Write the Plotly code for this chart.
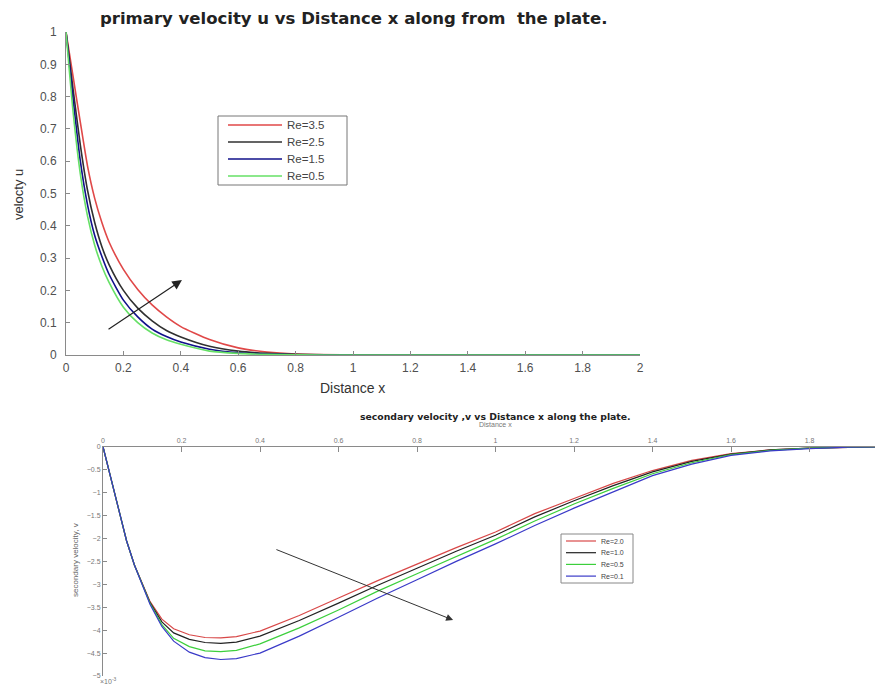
import plotly.graph_objects as go

# ---------------- top panel: primary velocity u ----------------
x_u = [0, 0.025, 0.05, 0.075, 0.1, 0.125, 0.15, 0.2, 0.25, 0.3, 0.35, 0.4,
       0.5, 0.6, 0.7, 0.8, 1.0, 1.2, 1.4, 1.6, 1.8, 2.0]
u_re35 = [1, 0.86, 0.72, 0.585, 0.485, 0.41, 0.35, 0.265, 0.203, 0.155, 0.118, 0.088,
          0.048, 0.022, 0.009, 0.003, 0.0005, 0, 0, 0, 0, 0]
u_re25 = [1, 0.82, 0.65, 0.51, 0.41, 0.335, 0.28, 0.20, 0.145, 0.106, 0.076, 0.056,
          0.027, 0.012, 0.005, 0.002, 0.0003, 0, 0, 0, 0, 0]
u_re15 = [1, 0.79, 0.60, 0.465, 0.37, 0.305, 0.25, 0.17, 0.118, 0.08, 0.057, 0.04,
          0.018, 0.007, 0.003, 0.001, 0, 0, 0, 0, 0, 0]
u_re05 = [1, 0.75, 0.56, 0.43, 0.34, 0.275, 0.225, 0.148, 0.10, 0.068, 0.047, 0.033,
          0.012, 0.005, 0.002, 0.0005, 0, 0, 0, 0, 0, 0]
top_names = ["Re=3.5", "Re=2.5", "Re=1.5", "Re=0.5"]
top_colors = ["#e04848", "#303030", "#10108a", "#66e066"]

# ---------------- bottom panel: secondary velocity v (x 1e-3) ----------------
x_v = [0, 0.02, 0.04, 0.06, 0.08, 0.1, 0.12, 0.15, 0.18, 0.22, 0.26, 0.3, 0.34,
       0.4, 0.5, 0.6, 0.7, 0.8, 0.9, 1.0, 1.1, 1.2, 1.3, 1.4, 1.5, 1.6, 1.7, 1.8,
       1.9, 2.0]
v_re20 = [0, -0.7, -1.38, -2.05, -2.58, -3.0, -3.38, -3.76, -3.97, -4.10, -4.16, -4.17,
          -4.14, -4.02, -3.68, -3.30, -2.92, -2.56, -2.20, -1.86, -1.46, -1.13, -0.80,
          -0.52, -0.30, -0.15, -0.07, -0.03, -0.01, 0]
v_re10 = [0, -0.7, -1.38, -2.05, -2.58, -3.0, -3.40, -3.82, -4.06, -4.20, -4.27, -4.29,
          -4.26, -4.13, -3.79, -3.41, -3.02, -2.65, -2.28, -1.93, -1.53, -1.18, -0.85,
          -0.55, -0.32, -0.16, -0.07, -0.03, -0.01, 0]
v_re05 = [0, -0.7, -1.38, -2.05, -2.58, -3.0, -3.42, -3.88, -4.18, -4.36, -4.45, -4.47,
          -4.44, -4.30, -3.95, -3.56, -3.15, -2.77, -2.39, -2.02, -1.62, -1.25, -0.91,
          -0.59, -0.35, -0.17, -0.08, -0.03, -0.01, 0]
v_re01 = [0, -0.7, -1.38, -2.05, -2.58, -3.0, -3.44, -3.92, -4.24, -4.48, -4.60, -4.64,
          -4.62, -4.50, -4.13, -3.72, -3.30, -2.90, -2.50, -2.12, -1.72, -1.34, -0.98,
          -0.63, -0.38, -0.19, -0.09, -0.04, -0.01, 0]
bot_names = ["Re=2.0", "Re=1.0", "Re=0.5", "Re=0.1"]
bot_colors = ["#d84848", "#222222", "#3ccf3c", "#3a3ac8"]

fig = go.Figure()
for ys, name, col in zip([u_re35, u_re25, u_re15, u_re05], top_names, top_colors):
    fig.add_trace(go.Scatter(x=x_u, y=ys, mode="lines", name=name,
                             line=dict(color=col, width=1.6, shape="spline", smoothing=0.6),
                             xaxis="x", yaxis="y", showlegend=False))
for ys, name, col in zip([v_re20, v_re10, v_re05, v_re01], bot_names, bot_colors):
    fig.add_trace(go.Scatter(x=x_v, y=ys, mode="lines", name=name,
                             line=dict(color=col, width=1.2),
                             xaxis="x2", yaxis="y2", showlegend=False))

W, H = 883, 686
OFF = 8  # page body margin offset


def px(xp):
    return (xp - OFF) / W


def py(yp):
    return 1 - (yp - OFF) / H


FONT = "Liberation Sans, Arial, sans-serif"
axis_common = dict(showgrid=False, zeroline=False, showline=True, linecolor="#8a8a8a",
                   ticks="inside", tickcolor="#8a8a8a", mirror=False, automargin=False)

fig.update_layout(
    width=W, height=H, margin=dict(l=0, r=0, t=0, b=0, pad=0),
    paper_bgcolor="white", plot_bgcolor="white",
    font=dict(family=FONT),
    xaxis=dict(domain=[px(66), px(640)], range=[0, 2], anchor="y", dtick=0.2, tick0=0,
               ticklen=4, tickfont=dict(size=12, color="#505050"), ticklabelstandoff=2,
               **axis_common),
    yaxis=dict(domain=[py(355), py(32)], range=[0, 1], anchor="x", dtick=0.1, tick0=0,
               ticklen=4, tickfont=dict(size=12, color="#505050"), ticklabelstandoff=6,
               **axis_common),
    xaxis2=dict(domain=[px(103), px(883)], range=[0, (883 - 103) / 392.5], anchor="y2",
                side="top", dtick=0.2, tick0=0, ticklen=5,
                tickfont=dict(size=7, color="#777"), **axis_common),
    yaxis2=dict(domain=[py(676), py(446.7)], range=[-5, 0], anchor="x2", dtick=0.5,
                tick0=0, ticklen=4, tickfont=dict(size=7, color="#777"), **axis_common),
    showlegend=False,
)

ann = [
    dict(text="<b>primary velocity u vs Distance x along from  the plate.</b>",
         x=px(353), y=py(18), font=dict(size=16.5, color="#222", family="DejaVu Sans")),
    dict(text="Distance x", x=px(352), y=py(388), font=dict(size=14, color="#333")),
    dict(text="velocty u", x=px(18), y=py(195), textangle=-90,
         font=dict(size=13, color="#333")),
    dict(text="<b>secondary velocity ,v vs Distance x along the plate.</b>",
         x=px(495), y=py(416), font=dict(size=9.3, color="#222", family="DejaVu Sans")),
    dict(text="Distance x", x=px(495), y=py(424), font=dict(size=7, color="#777")),
    dict(text="secondary velocity, v", x=px(75), y=py(560), textangle=-90,
         font=dict(size=8, color="#666")),
    dict(text="×10<sup>-3</sup>", x=px(108), y=py(681), font=dict(size=7, color="#777")),
]
for a in ann:
    a.update(xref="paper", yref="paper", showarrow=False, xanchor="center", yanchor="middle")
    fig.add_annotation(**a)


def boxed_key(x0, x1, y0, y1, rows_y, line_x0, line_x1, text_x, names, colors,
              fsize, lw, border):
    fig.add_shape(type="rect", xref="paper", yref="paper", x0=px(x0), x1=px(x1),
                  y0=py(y1), y1=py(y0), line=dict(color=border, width=1),
                  fillcolor="white", layer="above")
    for yy, name, col in zip(rows_y, names, colors):
        fig.add_shape(type="line", xref="paper", yref="paper", x0=px(line_x0),
                      x1=px(line_x1), y0=py(yy), y1=py(yy),
                      line=dict(color=col, width=lw), layer="above")
        fig.add_annotation(text=name, xref="paper", yref="paper", x=px(text_x), y=py(yy),
                           xanchor="left", yanchor="middle", showarrow=False,
                           font=dict(size=fsize, color="#444"))


# top key
boxed_key(218, 347, 116, 185, [125, 142, 159, 176], 228, 282, 285,
          top_names, top_colors, 11.5, 1.6, "#777")
# bottom key
boxed_key(561, 633, 534, 583, [541, 552.7, 564.4, 576.1], 566, 596, 599,
          bot_names, bot_colors, 7, 1.2, "#888")

# arrows (data coordinates)
fig.add_annotation(x=0.404, y=0.232, ax=0.143, ay=0.077, xref="x", yref="y",
                   axref="x", ayref="y", showarrow=True, arrowhead=2, arrowsize=1.6,
                   arrowwidth=1.2, arrowcolor="#222", text="")
fig.add_annotation(x=0.892, y=-3.78, ax=0.438, ay=-2.23, xref="x2", yref="y2",
                   axref="x2", ayref="y2", showarrow=True, arrowhead=2, arrowsize=1.4,
                   arrowwidth=1, arrowcolor="#333", text="")

fig.write_html("out.html")
